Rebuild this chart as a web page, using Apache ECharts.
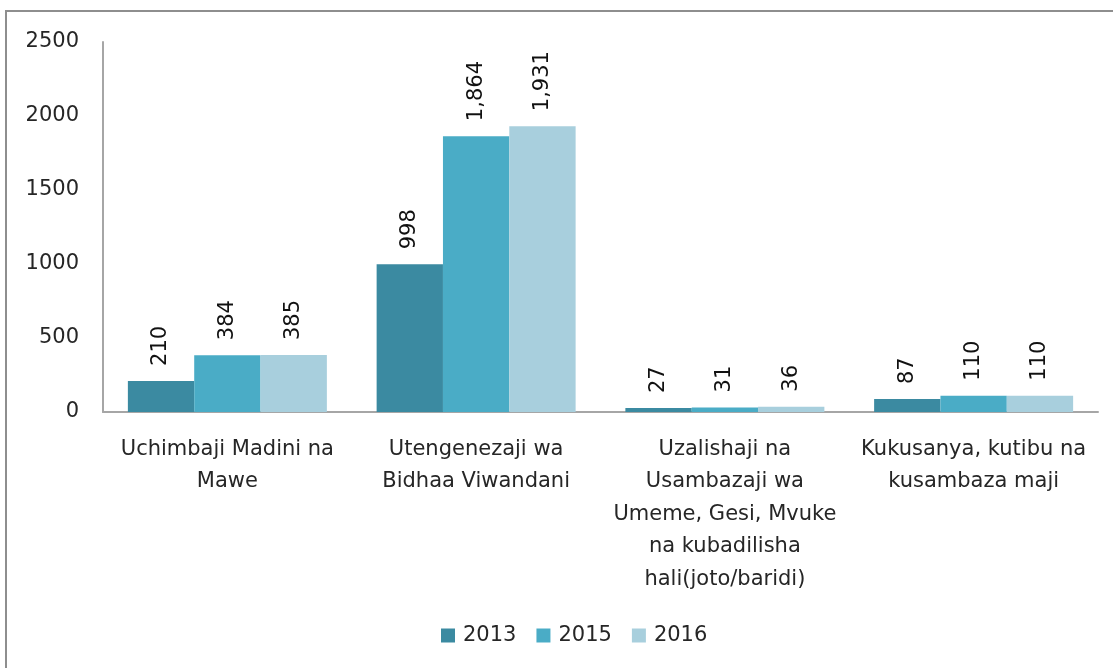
<!DOCTYPE html>
<html lang="sw">

<head>
    <meta charset="UTF-8">
    <title>Sekta za viwanda 2013-2016</title>
    <script src="https://cdn.jsdelivr.net/npm/echarts@6/dist/echarts.min.js"></script>
    <style>
        html,
        body {
            margin: 0;
            padding: 0;
            overflow: hidden;
            background: #fff;
        }

        #main {
            width: 1113px;
            height: 668px;
        }
    </style>
</head>

<body>
    <div id="main"></div>
</body>
<script>
    var categories = [
        'Uchimbaji Madini na\nMawe',
        'Utengenezaji wa\nBidhaa Viwandani',
        'Uzalishaji na\nUsambazaji wa\nUmeme, Gesi, Mvuke\nna kubadilisha\nhali(joto/baridi)',
        'Kukusanya, kutibu na\nkusambaza maji'
    ];
    var years = ['2013', '2015', '2016'];
    var values2013 = [210, 998, 27, 87];
    var values2015 = [384, 1864, 31, 110];
    var values2016 = [385, 1931, 36, 110];
    var yTicks = [0, 500, 1000, 1500, 2000, 2500];

    var colors = ['#3b8aa1', '#4aacc6', '#a8cfdd'];
    var fontFam = '"DejaVu Sans", sans-serif';
    var fs = 21;
    var chart = echarts.init(document.getElementById('main'));

    function makeSeries(name, data) {
        return {
            name: name,
            type: 'bar',
            data: data,
            barGap: '0%',
            barCategoryGap: '20%',
            label: {
                show: true,
                position: 'top',
                rotate: 90,
                align: 'left',
                verticalAlign: 'middle',
                distance: 15,
                color: '#111',
                fontFamily: fontFam,
                fontSize: 21,
                formatter: function(p) {
                    return p.value.toLocaleString('en-US');
                }
            }
        };
    }

    var option = {
        color: colors,
        animation: false,
        textStyle: { fontFamily: fontFam },
        // frame of the chart box (left and top edges only, the rest is cut off)
        graphic: [{
            type: 'polyline',
            silent: true,
            shape: { points: [[6, 668], [6, 11], [1113, 11]] },
            style: { stroke: '#8e8e8e', lineWidth: 2, fill: null }
        }],
        grid: {
            left: 103,
            right: 15,
            top: 42,
            bottom: 256
        },
        legend: {
            bottom: 17,
            left: 436,
            icon: 'rect',
            itemWidth: 14,
            itemHeight: 14,
            itemGap: 20,
            textStyle: {
                fontSize: fs,
                color: '#262626',
                fontFamily: fontFam,
                padding: [0, 0, 0, 3]
            },
            data: years
        },
        xAxis: {
            type: 'category',
            data: categories,
            axisLine: { lineStyle: { color: '#a6a6a6', width: 2 } },
            axisTick: { show: false },
            axisLabel: {
                margin: 21,
                fontSize: fs,
                lineHeight: 32.5,
                color: '#262626',
                fontFamily: fontFam,
                interval: 0
            }
        },
        yAxis: {
            type: 'value',
            min: yTicks[0],
            max: yTicks[yTicks.length - 1],
            interval: 500,
            splitLine: { show: false },
            axisLine: { show: true, lineStyle: { color: '#a6a6a6', width: 2 } },
            axisTick: { show: false },
            axisLabel: {
                margin: 24,
                fontSize: fs,
                color: '#262626',
                fontFamily: fontFam,
                formatter: function(v) {
                    return String(v);
                }
            }
        },
        series: [
            makeSeries(years[0], values2013),
            makeSeries(years[1], values2015),
            makeSeries(years[2], values2016)
        ]
    };
    chart.setOption(option);
</script>

</html>
